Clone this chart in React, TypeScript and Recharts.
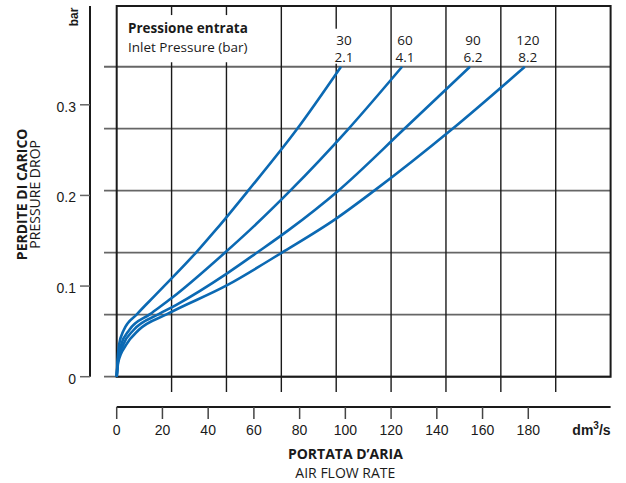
import {
  ComposedChart,
  Label,
  LabelList,
  Line,
  ReferenceArea,
  ReferenceLine,
  XAxis,
  YAxis,
} from 'recharts';

// axis ticks
const flowTicks = [0, 20, 40, 60, 80, 100, 120, 140, 160, 180];
const dropTicks = [0, 0.1, 0.2, 0.3];
// decorative background grid (in axis units)
const gridFlow = [24, 48, 72, 96, 120, 144, 168, 192];
const gridDrop = [0, 0.0684, 0.1368, 0.2052, 0.2736, 0.342];

const inletPsi = ['30', '60', '90', '120'];
const inletBar = ['2.1', '4.1', '6.2', '8.2'];

// air flow (dm3/s) vs pressure drop (bar), one pair per inlet pressure
const flow30 = [0, 0.35, 1.0, 3.1, 8.9, 16.9, 34.7, 43.7, 57.4, 78.8, 98.1];
const drop30 = [0, 0.0162, 0.035, 0.0515, 0.069, 0.09, 0.137, 0.163, 0.205, 0.273, 0.342];

const flow60 = [0, 0.45, 1.9, 5.5, 14.6, 24.2, 47.4, 58.3, 75.8, 101.2, 124.8];
const drop60 = [0, 0.0162, 0.035, 0.0515, 0.069, 0.087, 0.137, 0.162, 0.205, 0.273, 0.342];

const flow90 = [0, 0.55, 2.8, 7.4, 18.4, 25.9, 48.3, 61.4, 75.3, 96.8, 125.6, 154.5];
const drop90 = [0, 0.0162, 0.035, 0.0515, 0.069, 0.079, 0.114, 0.137, 0.162, 0.205, 0.273, 0.342];

const flow120 = [0, 0.7, 4.1, 9.6, 22.0, 48.3, 72.3, 96.3, 112.5, 146.6, 178.5];
const drop120 = [0, 0.0162, 0.035, 0.0515, 0.069, 0.101, 0.137, 0.175, 0.205, 0.273, 0.342];

const curves = [
  [flow30, drop30],
  [flow60, drop60],
  [flow90, drop90],
  [flow120, drop120],
].map(([flow, drop], i) => ({
  psi: inletPsi[i],
  bar: inletBar[i],
  points: flow.map((f, j) => ({ flow: f, drop: drop[j] })),
}));

const FLOW_MAX = 216;
const DROP_MAX = 0.409;
const STUB_DROP = -0.0169; // grid lines poke below the frame
const STUB_FLOW = -5.55; // ...and out to the left
const HEADER_FLOW = 66; // the inlet-pressure caption interrupts the grid
const HEADER_GAP = [0.347, 0.399];
const GRID_AXIS_W = 26.7;

const verticalSegments = gridFlow.flatMap((f) =>
  f < HEADER_FLOW
    ? [
        { f, from: STUB_DROP, to: HEADER_GAP[0] },
        { f, from: HEADER_GAP[1], to: DROP_MAX },
      ]
    : [{ f, from: STUB_DROP, to: DROP_MAX }],
);

const BLUE = '#0b69b3';
const INK = '#1a1a1a';
const HUMANIST = "'Open Sans', 'Noto Sans', sans-serif";
const HELV = "'Liberation Sans', Arial, sans-serif";

function DropTick({ x, y, payload }: any) {
  return (
    <text x={x} y={y + 2} dy="0.355em" textAnchor="end" fill={INK} fontSize={14} fontFamily={HELV}>
      {payload.value}
    </text>
  );
}

// y-axis titles plus the inlet-pressure caption in the top-left of the frame
function DropTitle({ viewBox }: any) {
  const cy = viewBox.y + viewBox.height / 2 + 3;
  const plotLeft = viewBox.x + viewBox.width + GRID_AXIS_W;
  return (
    <g fill={INK}>
      <text x={27.5} y={cy} transform={`rotate(-90, 27.5, ${cy})`} textAnchor="middle" fontSize={14} fontWeight={700} fontFamily={HUMANIST}>
        PERDITE DI CARICO
      </text>
      <text x={40.5} y={cy} transform={`rotate(-90, 40.5, ${cy})`} textAnchor="middle" fontSize={14} fontFamily={HUMANIST}>
        PRESSURE DROP
      </text>
      <text x={78} y={17} transform="rotate(-90, 78, 17)" textAnchor="middle" fontSize={12} fontWeight={700} fontFamily={HELV}>
        bar
      </text>
      <g fontFamily={HUMANIST} fontSize={13.5}>
        <text x={plotLeft + 11.3} y={viewBox.y + 27} fontWeight={700}>
          Pressione entrata
        </text>
        <text x={plotLeft + 11.3} y={viewBox.y + 46}>
          Inlet Pressure (bar)
        </text>
      </g>
    </g>
  );
}

function FlowTitle({ viewBox }: any) {
  const { x, y, width } = viewBox;
  const cx = x + (width * 100) / 216;
  return (
    <g fill={INK}>
      <text x={cx} y={y + 52} textAnchor="middle" fontSize={14} fontWeight={700} fontFamily={HUMANIST}>
        PORTATA D’ARIA
      </text>
      <text x={cx} y={y + 70.5} textAnchor="middle" fontSize={14} fontFamily={HUMANIST}>
        AIR FLOW RATE
      </text>
      <text x={x + width} y={y + 28} textAnchor="end" fontSize={14} fontWeight={700} fontFamily={HELV}>
        dm<tspan dy={-6} fontSize={10}>3</tspan>
        <tspan dy={6}>/s</tspan>
      </text>
    </g>
  );
}

function endLabel(psi: string, bar: string, last: number) {
  return (props: any) => {
    if (props.index !== last) return null;
    const px = props.viewBox?.x ?? props.x;
    const py = props.viewBox?.y ?? props.y;
    const cx = px + 3;
    return (
      <g>
        <rect x={cx - 11} y={py - 38} width={22} height={35} fill="#fff" />
        <text x={cx} y={py - 22} textAnchor="middle" fill={INK} fontSize={13.5} fontFamily={HUMANIST}>
          {psi}
        </text>
        <text x={cx} y={py - 5} textAnchor="middle" fill={INK} fontSize={13.5} fontFamily={HUMANIST}>
          {bar}
        </text>
      </g>
    );
  };
}

export default function App() {
  return (
    <div style={{ position: 'absolute', left: 0, top: 0, background: '#fff' }}>
      <ComposedChart width={626} height={483} margin={{ top: 6, right: 15.4, bottom: 36, left: 0 }}>
        <XAxis
          xAxisId="bFlow"
          type="number"
          dataKey="flow"
          domain={[0, FLOW_MAX]}
          ticks={flowTicks}
          interval={0}
          tickSize={12}
          tickMargin={6}
          axisLine={{ stroke: INK, strokeWidth: 2 }}
          tickLine={{ stroke: '#444', strokeWidth: 1.5 }}
          tick={{ fill: INK, fontSize: 14, fontFamily: HELV }}
          height={40}
        >
          <Label content={FlowTitle} />
        </XAxis>
        <YAxis
          yAxisId="bDrop"
          type="number"
          domain={[0, DROP_MAX]}
          ticks={dropTicks}
          interval={0}
          tickSize={10}
          tickMargin={4}
          axisLine={{ stroke: INK, strokeWidth: 2 }}
          tickLine={{ stroke: '#666', strokeWidth: 1.5 }}
          tick={<DropTick />}
          width={90}
        >
          <Label content={DropTitle} />
        </YAxis>
        {/* empty spacer axes: keep the visible axes away from the frame */}
        <XAxis xAxisId="aGrid" type="number" domain={[0, FLOW_MAX]} tick={false} tickLine={false} axisLine={false} height={30.3} />
        <YAxis yAxisId="aGrid" type="number" domain={[0, DROP_MAX]} tick={false} tickLine={false} axisLine={false} width={GRID_AXIS_W} />

        {gridDrop.map((d) => (
          <ReferenceLine
            key={`h-${d}`}
            xAxisId="bFlow"
            yAxisId="bDrop"
            segment={[
              { x: STUB_FLOW, y: d },
              { x: FLOW_MAX, y: d },
            ]}
            ifOverflow="visible"
            stroke="#666"
            strokeWidth={1.8}
            zIndex={-50}
          />
        ))}
        {verticalSegments.map((s) => (
          <ReferenceLine
            key={`v-${s.f}-${s.from}`}
            xAxisId="bFlow"
            yAxisId="bDrop"
            segment={[
              { x: s.f, y: s.from },
              { x: s.f, y: s.to },
            ]}
            ifOverflow="visible"
            stroke={INK}
            strokeWidth={1.4}
            zIndex={-50}
          />
        ))}
        <ReferenceArea
          xAxisId="bFlow"
          yAxisId="bDrop"
          x1={0}
          x2={FLOW_MAX}
          y1={0}
          y2={DROP_MAX}
          fill="none"
          stroke={INK}
          strokeWidth={2}
          zIndex={-40}
        />
        {curves.map((c) => (
          <Line
            key={c.psi}
            xAxisId="bFlow"
            yAxisId="bDrop"
            data={c.points}
            dataKey="drop"
            type="monotone"
            stroke={BLUE}
            strokeWidth={2.6}
            dot={false}
            activeDot={false}
            isAnimationActive={false}
          >
            <LabelList dataKey="drop" content={endLabel(c.psi, c.bar, c.points.length - 1)} />
          </Line>
        ))}
      </ComposedChart>
    </div>
  );
}
